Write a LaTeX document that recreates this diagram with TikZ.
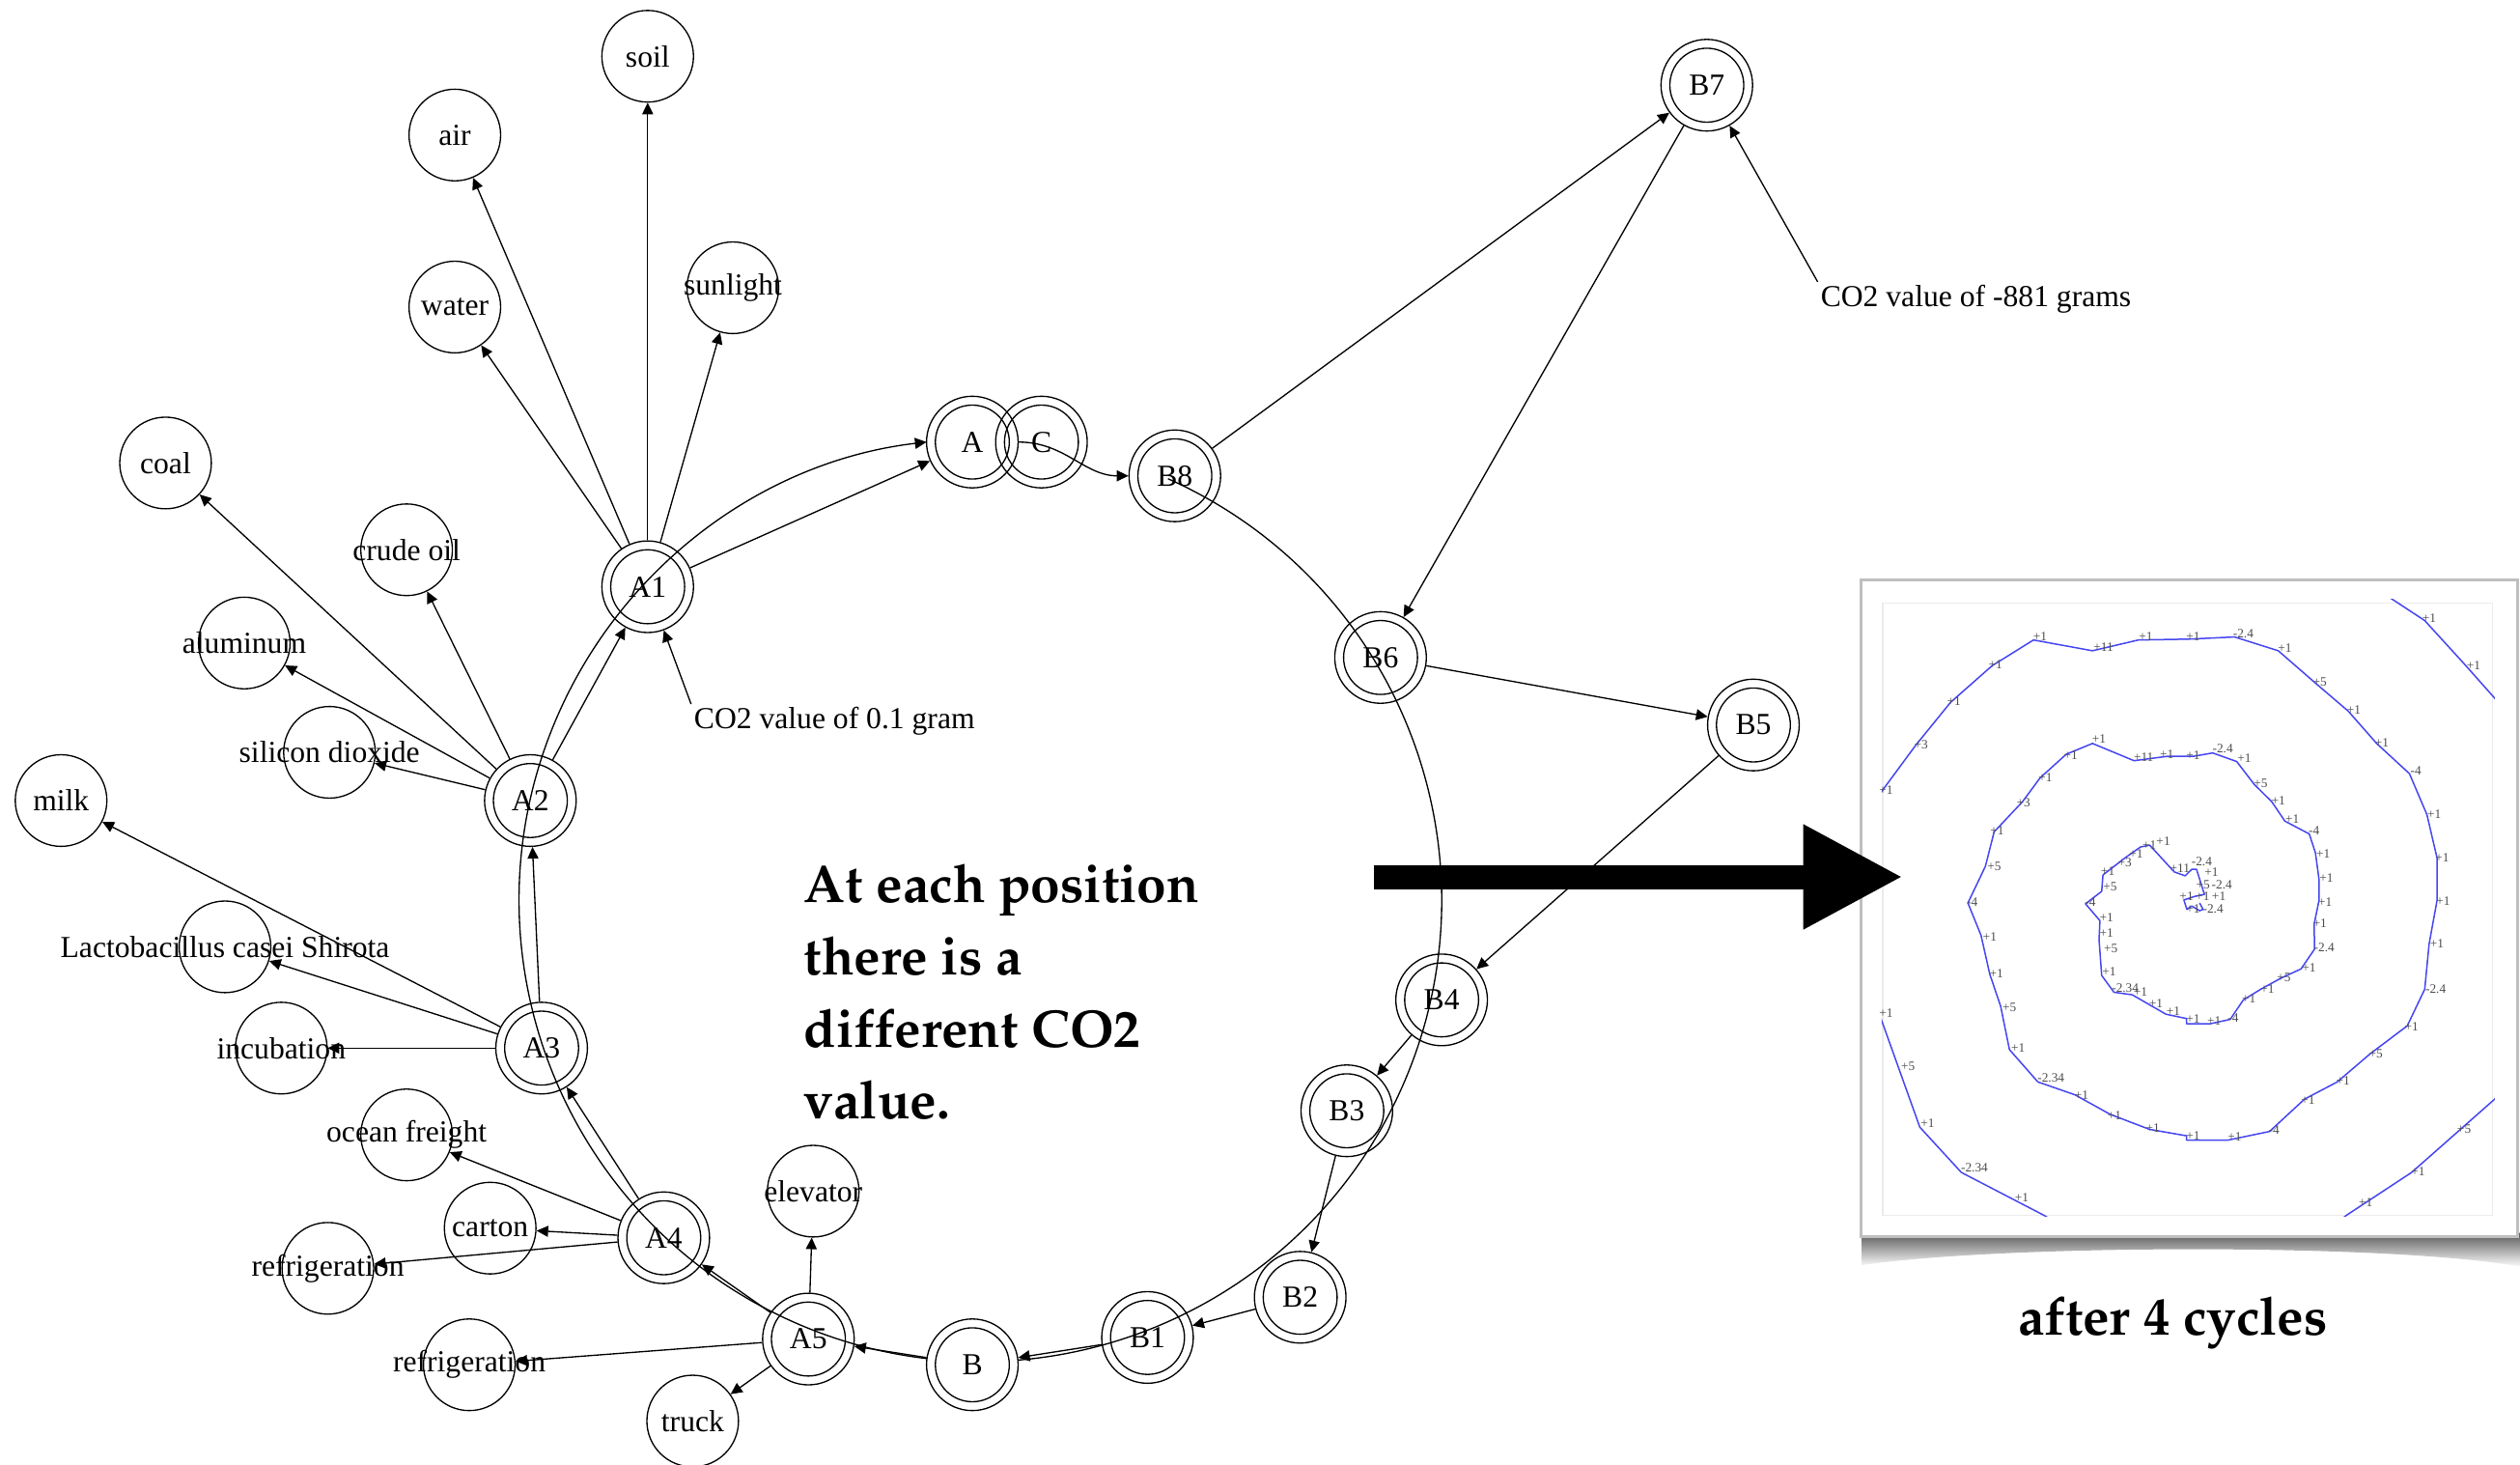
\documentclass[tikz,border=0pt]{standalone}
\usepackage[T1]{fontenc}
\usepackage{fontspec}
\usetikzlibrary{arrows.meta}
\newfontfamily\graphfont{Liberation Serif}
\newcommand\palbold{\fontencoding{T1}\fontfamily{ppl}\fontseries{b}\fontsize{16.5}{22.5}\selectfont}

\tikzset{every picture/.style={line width=0.4pt}}
\tikzset{
  res/.style={circle, draw, minimum size=28.5pt, inner sep=0pt,
    font=\graphfont\fontsize{9.5}{11}\selectfont,
    execute at begin node=\hbox to 0pt\bgroup\hss,
    execute at end node=\hss\egroup},
  stage/.style={circle, draw, minimum size=28.5pt, inner sep=0pt,
    font=\graphfont\fontsize{9.5}{11}\selectfont,
    path picture={\draw (path picture bounding box.center) circle[radius=11.5pt];}},
  note/.style={inner sep=0.75pt, font=\graphfont\fontsize{9.5}{11}\selectfont},
  gv/.style={-{Triangle[length=3.6pt,width=3.4pt]}},
  spiral/.style={draw={rgb,255:red,70;green,70;blue,240}, line width=0.45pt, line join=round},
  cyclbl/.style={inner sep=0pt, text=black!70, font=\graphfont\fontsize{4}{4}\selectfont},
}

\begin{document}
\begin{tikzpicture}[x=0.5pt,y=0.5pt,yscale=-1,xscale=1]
\useasboundingbox (0,0) rectangle (1568,911.3);

%Curve Lines (the long loop, drawn under the nodes)
\coordinate (loopc) at (610,560);
\draw[gv] ([shift={(-66:287)}]loopc) arc[start angle=-66, end angle=263.3, radius=287];

%Shape: Circle (stages)
\node[stage] (A1) at (403,365) {A1};
\node[stage] (A2) at (330,498) {A2};
\node[stage] (A3) at (337,652) {A3};
\node[stage] (A4) at (413,770) {A4};
\node[stage] (A5) at (503,833) {A5};
\node[stage, fill=white] (B) at (605,849) {B};
\node[stage] (B1) at (714,832) {B1};
\node[stage] (B2) at (809,807) {B2};
\node[stage] (B3) at (838,691) {B3};
\node[stage] (B4) at (897,622) {B4};
\node[stage] (B5) at (1091,451) {B5};
\node[stage] (B6) at (859,409) {B6};
\node[stage] (B7) at (1062,53) {B7};
\node[stage] (B8) at (731,296) {B8};
\node[stage] (A) at (605,275) {A};
\node[stage] (C) at (648,275) {C};

%Shape: Circle (inputs)
\node[res] (soil) at (403,35) {soil};
\node[res] (air) at (283,84) {air};
\node[res] (water) at (283,191) {water};
\node[res] (sun) at (456,179) {sunlight};
\node[res] (coal) at (103,288) {coal};
\node[res] (oil) at (253,342) {crude oil};
\node[res] (alu) at (152,400) {aluminum};
\node[res] (sio) at (205,468) {silicon dioxide};
\node[res] (milk) at (38,498) {milk};
\node[res] (lacto) at (140,589) {Lactobacillus casei Shirota};
\node[res] (incub) at (175,652) {incubation};
\node[res] (ocean) at (253,706) {ocean freight};
\node[res] (carton) at (305,764) {carton};
\node[res] (refrA) at (204,789) {refrigeration};
\node[res] (refrB) at (292,849) {refrigeration};
\node[res] (truck) at (431,884) {truck};
\node[res] (elev) at (506,741) {elevator};

% Text Node
\node[note, anchor=west] (co2a) at (430,448.6) {CO2 value of 0.1 gram};
% Text Node
\node[note, anchor=west] (co2b) at (1131,186) {CO2 value of -881 grams};

%Straight Lines
\foreach \t in {soil,air,water,sun} \draw[gv] (A1) -- (\t);
\foreach \t in {coal,oil,alu,sio} \draw[gv] (A2) -- (\t);
\foreach \t in {milk,lacto,incub} \draw[gv] (A3) -- (\t);
\foreach \t in {ocean,carton,refrA} \draw[gv] (A4) -- (\t);
\foreach \t in {elev,refrB,truck} \draw[gv] (A5) -- (\t);
\draw[gv] (A2) -- (A1);
\draw[gv] (A3) -- (A2);
\draw[gv] (A4) -- (A3);
\draw[gv] (A5) -- (A4);
\draw[gv] (B) -- (A5);
\draw[gv] (B1) -- (B);
\draw[gv] (B2) -- (B1);
\draw[gv] (B3) -- (B2);
\draw[gv] (B4) -- (B3);
\draw[gv] (B5) -- (B4);
\draw[gv] (B6) -- (B5);
\draw[gv] (B7) -- (B6);
\draw[gv] (B8) -- (B7);
\draw[gv] (A1) -- (A);
\draw[gv] (A) to[out=-3, in=193] (B8);
\draw[gv] (co2a.north west) -- (A1);
\draw[gv] (co2b.north west) -- (B7);

% Text Node
\node[font=\palbold, align=left, anchor=north west, inner sep=0pt] (msg) at (500,537) {At each position\\there is a\\different CO2\\value.};

%Shape: Rectangle (screenshot of the spiral)
\begin{scope}[shift={(1141.5,348.5)}, xscale=0.272, yscale=0.2682]
\shade[top color=black!65, bottom color=white] (62,1560) -- (1575,1560) -- (1575,1640) .. controls (1300,1585) and (400,1585) .. (62,1635) -- cycle;
\draw[black!25, fill=white, line width=0.9pt] (60,45) rectangle (1562,1568);
\draw[black!8] (110,100) rectangle (1505,1520);
\begin{scope}
\clip (108,90) rectangle (1510,1522);
\draw[spiral] (835,795) -- (843,810) -- (835,813) -- (817,802) -- (806,810) -- (799,788) -- (823,780) -- (846,775) -- (828,717) -- (817,717) -- (802,732) -- (777,723) -- (721,661) -- (700,665) -- (665,690) -- (614,730) -- (611,768) -- (574,797) -- (607,836) -- (605,880) -- (611,963) -- (639,1002) -- (681,1008) -- (758,1053) -- (805,1063) -- (805,1075) -- (860,1075) -- (905,1065) -- (935,1020) -- (975,995) -- (1020,970) -- (1067,948) -- (1098,902) -- (1097,844) -- (1108,790) -- (1108,739) -- (1100,679) -- (1086,635) -- (1030,605) -- (1000,560) -- (960,520) -- (920,467) -- (865,447) -- (820,455) -- (760,455) -- (685,465) -- (590,425) -- (530,450) -- (470,505) -- (430,560) -- (365,630) -- (345,710) -- (305,795) -- (335,870) -- (355,960) -- (380,1035) -- (400,1135) -- (465,1210) -- (550,1240) -- (630,1285) -- (720,1320) -- (805,1335) -- (805,1345) -- (900,1345) -- (995,1325) -- (1075,1250) -- (1150,1210) -- (1225,1145) -- (1310,1080) -- (1350,995) -- (1360,890) -- (1378,790) -- (1378,690) -- (1355,590) -- (1315,495) -- (1240,425) -- (1175,350) -- (1100,285) -- (1015,210) -- (915,178) -- (810,183) -- (695,185) -- (590,210) -- (455,185) -- (360,245) -- (265,330) -- (185,430) -- (105,540) -- (40,800) -- (105,1060) -- (195,1315) -- (290,1420) -- (480,1520) -- (560,1570) -- (800,1640) -- (1050,1620) -- (1170,1520) -- (1320,1420) -- (1510,1250) -- (1600,1100) -- (1660,800) -- (1620,480) -- (1510,320) -- (1440,240) -- (1350,140) -- (1275,90) -- (1200,40);
\end{scope}
\foreach \lx/\ly/\lv [count=\k] in {1360/135/+1, 1462/245/+1, 118/533/+1, 198/427/+3, 273/327/+1, 368/243/+1,
  470/178/+1, 615/201/+11, 712/178/+1, 820/178/+1, 935/170/-2.4, 1030/203/+1, 1110/282/+5,
  1188/347/+1, 1252/423/+1, 1330/488/-4, 1372/588/+1, 1390/690/+1, 1392/790/+1, 1378/890/+1, 1375/995/-2.4,
  1320/1083/+1, 1238/1145/+5, 1163/1207/+1, 1083/1253/+1, 1005/1322/-4, 915/1337/+1, 820/1335/+1,
  728/1318/+1, 640/1288/+1, 565/1242/+1, 495/1200/-2.34, 420/1132/+1, 400/1037/+5, 370/958/+1, 355/873/+1,
  315/792/-4, 365/710/+5, 372/628/+1, 432/563/+3, 482/503/+1, 540/453/+1, 605/415/+1, 707/458/+11,
  760/450/+1, 820/453/+1, 888/438/-2.4, 937/460/+1, 975/518/+5, 1015/557/+1, 1047/600/+1, 1097/628/-4,
  1118/682/+1, 1125/738/+1, 1122/792/+1, 1110/843/+1, 1120/898/-2.4, 1085/945/+1, 1028/967/+5, 990/995/+1,
  948/1018/+1, 912/1062/-4, 868/1068/+1, 820/1064/+1, 775/1045/+1, 735/1028/+1, 700/1002/+1,
  665/993/-2.34, 628/955/+1, 632/900/+5, 622/865/+1, 622/828/+1, 585/793/-4, 630/757/+5, 625/722/+1,
  664/702/+3, 690/680/+1, 720/660/+1, 752/652/+1, 790/715/+11, 840/698/-2.4, 862/724/+1,
  843/752/+5, 886/752/-2.4, 805/780/+1, 842/780/+1, 879/780/+1, 820/808/+1, 866/808/-2.4,
  118/1050/+1, 168/1175/+5, 213/1305/+1, 320/1410/-2.34, 428/1478/+1, 1215/1490/+1, 1335/1417/+1, 1440/1320/+5}
  \node[cyclbl] (v\k) at (\lx,\ly) {\lv};
\end{scope}

%Straight Lines (big arrow)
\coordinate (arrS) at (855,545.5);
\coordinate (arrE) at (1184,545.5);
\draw[line width=7.5pt, -{Triangle[length=31pt,width=30.5pt]}] (arrS) -- (arrE);

% Text Node
\node[font=\palbold] (cap) at (1352,823) {after 4 cycles};

\end{tikzpicture}
\end{document}
